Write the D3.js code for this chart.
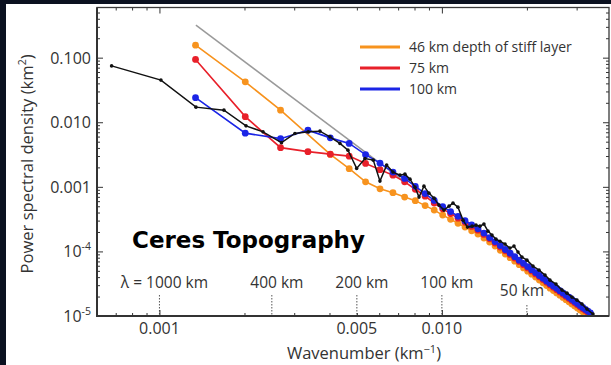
<!DOCTYPE html>
<html><head><meta charset="utf-8">
<script src="https://cdn.jsdelivr.net/npm/d3@7"></script>
<style>
html,body{margin:0;padding:0;background:#0b1120;}
svg{display:block;}
text{font-family:"Open Sans",sans-serif;}
</style></head><body>
<svg id="c" width="611" height="365"></svg>
<script>
// ---------- data ----------
const blackK=[0.000677,0.001012,0.001347,0.001692,0.002025,0.002326,0.002704,0.003018,0.003365,0.003701,0.004015,0.004356,0.00465,0.004992,0.005343,0.005716,0.006036,0.006375,0.006711,0.007106,0.0074,0.00771,0.00803,0.0083,0.00864,0.009,0.00938,0.00976,0.01017,0.0106,0.01095,0.0114,0.01188,0.01232,0.01279,0.01321,0.01364,0.01409,0.01456,0.01504,0.01554,0.01606,0.01673,0.01742,0.018,0.0186,0.01921,0.02001,0.02101,0.02208,0.02318,0.02414,0.02535,0.02663,0.02773,0.02888,0.03009,0.03134,0.03264,0.03428];
const blackP=[0.0746,0.0449,0.01714,0.01539,0.0088,0.0071,0.00483,0.00671,0.0071,0.00728,0.00594,0.0047,0.0037,0.00193,0.00275,0.00259,0.001226,0.00217,0.00169,0.001518,0.001573,0.001316,0.000989,0.000693,0.001025,0.000799,0.000668,0.000521,0.000436,0.000502,0.000559,0.000485,0.000305,0.000238,0.000246,0.000255,0.000246,0.000265,0.000206,0.000179,0.000155,0.000144,0.0001297,0.0001125,0.0001208,0.0000976,0.0000816,0.0000733,0.0000592,0.0000513,0.000043,0.0000359,0.0000312,0.0000252,0.0000226,0.0000196,0.0000176,0.0000153,0.0000128,0.0000107];

const modelK=[0.001342,0.002013,0.002684,0.003355,0.004026,0.004697,0.005368,0.006039,0.00671,0.007381,0.008052,0.008723,0.009394,0.010065,0.010736,0.011407,0.012078,0.012749,0.01342,0.014091,0.014762,0.015433,0.016104,0.016775,0.017446,0.018117,0.018788,0.019459,0.02013,0.020801,0.021472,0.022143,0.022814,0.023485,0.024156,0.024827,0.025498,0.026169,0.02684,0.027511,0.028182,0.028853,0.029524,0.030195,0.030866,0.031537,0.032208,0.032879,0.03355];
const orangeP=[0.156,0.0422,0.01539,null,0.003173,0.001913,0.001195,0.000931,0.000813,6.93e-4,6.11e-4,5.12e-4,4.36e-4,3.65e-4,3.14e-4,2.72e-4,2.38e-4,2.09e-4,1.86e-4,1.61e-4,1.40e-4,1.21e-4,1.04e-4,9.12e-5,8.00e-5,7.05e-5,6.24e-5,5.56e-5,4.95e-5,4.45e-5,4.00e-5,3.61e-5,3.27e-5,2.96e-5,2.70e-5,2.48e-5,2.28e-5,2.10e-5,1.94e-5,1.79e-5,1.66e-5,1.54e-5,1.43e-5,1.33e-5,1.24e-5,1.16e-5,1.08e-5,1.02e-5,null];
const redP=[0.0938,0.01221,0.004045,0.003506,0.003208,0.002987,0.002303,0.001846,0.001517,0.001195,9.18e-4,7.16e-4,5.62e-4,4.56e-4,3.85e-4,3.27e-4,2.82e-4,2.44e-4,2.13e-4,1.83e-4,1.57e-4,1.35e-4,1.17e-4,1.02e-4,8.97e-5,7.91e-5,7.00e-5,6.24e-5,5.56e-5,4.99e-5,4.49e-5,4.05e-5,3.66e-5,3.33e-5,3.03e-5,2.78e-5,2.56e-5,2.36e-5,2.17e-5,2.01e-5,1.86e-5,1.73e-5,1.60e-5,1.49e-5,1.39e-5,1.30e-5,1.22e-5,1.14e-5,1.07e-5];
const blueP=[0.02404,0.00678,0.00557,0.00754,0.00573,0.0047,0.00315,0.002328,0.00169,1.349e-3,1.019e-3,7.85e-4,6.17e-4,4.94e-4,4.14e-4,3.50e-4,2.99e-4,2.58e-4,2.24e-4,1.92e-4,1.64e-4,1.42e-4,1.23e-4,1.07e-4,9.40e-5,8.28e-5,7.33e-5,6.53e-5,5.82e-5,5.22e-5,4.70e-5,4.24e-5,3.84e-5,3.48e-5,3.18e-5,2.91e-5,2.68e-5,2.47e-5,2.28e-5,2.10e-5,1.95e-5,1.81e-5,1.68e-5,1.56e-5,1.46e-5,1.36e-5,1.27e-5,1.19e-5,1.12e-5];

const refK=[0.001346,0.0072];
const refP=[0.318,0.0013];

const yTicks=[0.1,0.01,0.001,1e-4,1e-5];
const yTickBase=["0.100","0.010","0.001","10","10"];
const yTickSup=["","","","-4","-5"];
const xTicks=[0.001,0.005,0.01];
const xTickLabels=["0.001","0.005","0.010"];
const wlK=[0.001,0.0025,0.005,0.01,0.02];
const wlLabels=["\u03bb = 1000 km","400 km","200 km","100 km","50 km"];
const legendLabels=["46 km depth of stiff layer","75 km","100 km"];
const colors=["#f7931e","#e8202a","#1b25e6"];

// ---------- layout ----------
const L=97,R=609,T=7.5,B=316;
const svg=d3.select("#c");
svg.append("rect").attr("x",0).attr("y",0).attr("width",611).attr("height",365).attr("fill","#0b1120");
svg.append("rect").attr("x",6).attr("y",4).attr("width",605).attr("height",361).attr("fill","#ffffff");

const x=d3.scaleLog().domain([0.000601,0.03906]).range([L,R]);
const y=d3.scaleLog().domain([1e-5,0.598]).range([B,T]);

svg.append("clipPath").attr("id","clip").append("rect").attr("x",L).attr("y",T).attr("width",R-L).attr("height",B-T);
const g=svg.append("g").attr("clip-path","url(#clip)");

// wavelength markers
wlK.forEach((k,i)=>{
  const top = i===4 ? 305 : 295;
  svg.append("line").attr("x1",x(k)).attr("x2",x(k)).attr("y1",top).attr("y2",B)
    .attr("stroke","#555").attr("stroke-width",1).attr("stroke-dasharray","1.5,1.5");
  svg.append("text").attr("x",x(k)+(i===4?-5:5)).attr("y",i===4?296:288)
    .attr("text-anchor","middle").attr("font-size",15.5).attr("fill","#333").text(wlLabels[i]);
});

// reference line
g.append("path").datum(refK.map((k,i)=>[k,refP[i]]))
  .attr("d",d3.line().x(d=>x(d[0])).y(d=>y(d[1])))
  .attr("fill","none").attr("stroke","#9a9a9a").attr("stroke-width",1.5);

function drawModel(vals,color){
  const pts=modelK.map((k,i)=>[k,vals[i]]).filter(d=>d[1]!=null);
  g.append("path").datum(pts).attr("d",d3.line().x(d=>x(d[0])).y(d=>y(d[1])))
    .attr("fill","none").attr("stroke",color).attr("stroke-width",1.6);
  g.selectAll(null).data(pts).enter().append("circle")
    .attr("cx",d=>x(d[0])).attr("cy",d=>y(d[1])).attr("r",3.4).attr("fill",color);
}
drawModel(orangeP,colors[0]);
drawModel(redP,colors[1]);
drawModel(blueP,colors[2]);

const bpts=blackK.map((k,i)=>[k,blackP[i]]);
g.append("path").datum(bpts).attr("d",d3.line().x(d=>x(d[0])).y(d=>y(d[1])))
  .attr("fill","none").attr("stroke","#111").attr("stroke-width",1.5);
g.selectAll(null).data(bpts).enter().append("circle")
  .attr("cx",d=>x(d[0])).attr("cy",d=>y(d[1])).attr("r",1.8).attr("fill","#111");

// ---------- axes / ticks (inward) ----------
const yMinor=[];
[1e-5,1e-4,1e-3,1e-2,1e-1].forEach(d=>{for(let m=2;m<=9;m++){const v=d*m; if(v<0.598) yMinor.push(v);}});
const xMinor=[0.0007,0.0008,0.0009,0.002,0.003,0.004,0.005,0.006,0.007,0.008,0.009,0.02,0.03];
const xMajor=[0.001,0.01];

function ax(gen,scale,vals,size,tx,ty){
  const a=svg.append("g").attr("transform",`translate(${tx},${ty})`)
    .call(gen(scale).tickValues(vals).tickSize(size).tickFormat(""));
  a.select(".domain").remove();
  a.selectAll("line").attr("stroke","#333").attr("stroke-width",1);
}
ax(d3.axisRight,y,yTicks,6,L,0); ax(d3.axisRight,y,yMinor,3,L,0);
ax(d3.axisLeft,y,yTicks,6,R,0); ax(d3.axisLeft,y,yMinor,3,R,0);
ax(d3.axisTop,x,xMajor,6,0,B); ax(d3.axisTop,x,xMinor,3,0,B);
ax(d3.axisBottom,x,xMajor,6,0,T); ax(d3.axisBottom,x,xMinor,3,0,T);

svg.append("rect").attr("x",L).attr("y",T).attr("width",R-L).attr("height",B-T)
  .attr("fill","none").attr("stroke","#3a3a3a").attr("stroke-width",1.3);
svg.append("line").attr("x1",L).attr("x2",L).attr("y1",T).attr("y2",B+1).attr("stroke","#333").attr("stroke-width",2);
svg.append("line").attr("x1",L-1).attr("x2",R).attr("y1",B).attr("y2",B).attr("stroke","#333").attr("stroke-width",2);

// tick labels
yTicks.forEach((v,i)=>{
  const t=svg.append("text").attr("x",91).attr("y",y(v)+6).attr("text-anchor","end")
    .attr("font-size",16).attr("fill","#333");
  t.append("tspan").text(yTickBase[i]);
  if(yTickSup[i]) t.append("tspan").attr("font-size",10.5).attr("dy",-7).text(yTickSup[i]);
});
xTicks.forEach((v,i)=>{
  svg.append("text").attr("x",x(v)).attr("y",334).attr("text-anchor","middle")
    .attr("font-size",16).attr("fill","#333").text(xTickLabels[i]);
});

// axis titles
const xt=svg.append("text").attr("x",364).attr("y",358.5).attr("text-anchor","middle").attr("font-size",16.5).attr("fill","#333");
xt.append("tspan").text("Wavenumber  (km");
xt.append("tspan").attr("font-size",11).attr("dy",-6).text("\u22121");
xt.append("tspan").attr("dy",6).text(")");
const yt=svg.append("text").attr("transform","translate(33,164) rotate(-90)").attr("text-anchor","middle").attr("font-size",16.6).attr("fill","#333");
yt.append("tspan").text("Power spectral density (km");
yt.append("tspan").attr("font-size",10.5).attr("dy",-7).text("2");
yt.append("tspan").attr("dy",7).text(")");

// chart label
svg.append("text").attr("x",132).attr("y",248).attr("font-size",23)
  .style("font-family","'DejaVu Sans',sans-serif").style("font-weight","bold")
  .attr("fill","#000").text("Ceres Topography");

// legend
legendLabels.forEach((s,i)=>{
  const yy=47+i*21;
  svg.append("line").attr("x1",360).attr("x2",400).attr("y1",yy).attr("y2",yy)
    .attr("stroke",colors[i]).attr("stroke-width",3);
  svg.append("text").attr("x",409).attr("y",yy+5).attr("font-size",14).attr("fill","#333").text(s);
});
</script>
</body></html>
